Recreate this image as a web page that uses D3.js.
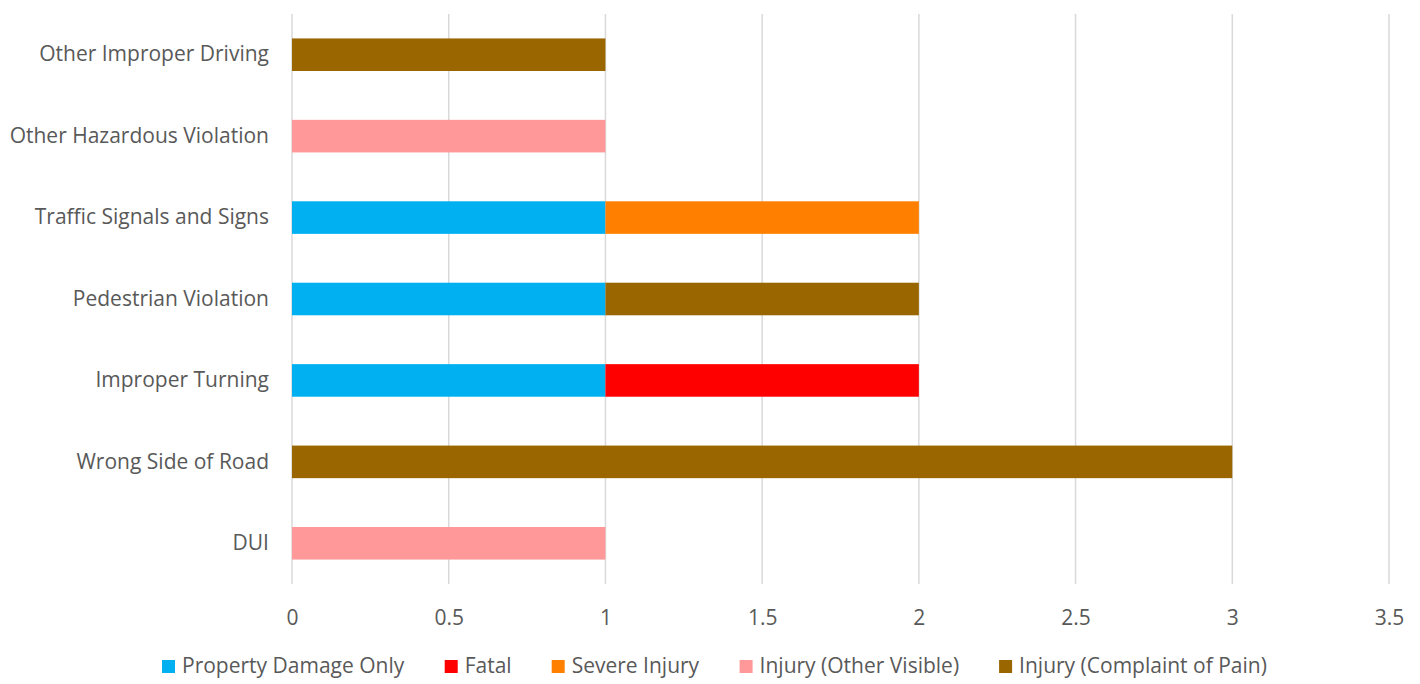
<!DOCTYPE html>
<html><head><meta charset="utf-8">
<script src="https://cdn.jsdelivr.net/npm/d3@7"></script>
<style>body{margin:0;background:#fff}svg{display:block}text{font-family:"Open Sans",sans-serif;fill:#595959}</style>
</head><body><svg id="c" width="1420" height="684"></svg>
<script>
const categories = ["Other Improper Driving","Other Hazardous Violation","Traffic Signals and Signs","Pedestrian Violation","Improper Turning","Wrong Side of Road","DUI"];
const seriesNames = ["Property Damage Only","Fatal","Severe Injury","Injury (Other Visible)","Injury (Complaint of Pain)"];
const propertyDamage = [0,0,1,1,1,0,0];
const fatal = [0,0,0,0,1,0,0];
const severeInjury = [0,0,1,0,0,0,0];
const injuryVisible = [0,1,0,0,0,0,1];
const injuryPain = [1,0,0,1,0,3,0];
const xTicks = [0,0.5,1,1.5,2,2.5,3,3.5];
const colors = ["#00B0F0","#FF0000","#FF8000","#FF9999","#996600"];

const seriesVals = [propertyDamage,fatal,severeInjury,injuryVisible,injuryPain];
const rows = categories.map((c,i)=>{const o={cat:c};seriesNames.forEach((s,j)=>o[s]=seriesVals[j][i]);return o;});
const stack = d3.stack().keys(seriesNames)(rows);

const svg = d3.select("#c");
const FS = "21px";
const m = {l:292,r:1389,t:14,b:584};
const x = d3.scaleLinear().domain([0,3.5]).range([m.l,m.r]);
const y = d3.scaleBand().domain(categories).range([m.t,m.b]).paddingInner(0.6).paddingOuter(0.3);

// gridlines
svg.append("g").selectAll("line").data(xTicks).join("line")
  .attr("x1",d=>x(d)).attr("x2",d=>x(d)).attr("y1",m.t).attr("y2",m.b)
  .attr("stroke","#D9D9D9").attr("stroke-width",1.5);

// bars
svg.append("g").selectAll("g").data(stack).join("g")
  .attr("fill",(d,i)=>colors[i])
  .selectAll("rect").data(d=>d).join("rect")
  .attr("x",d=>x(d[0])).attr("width",d=>x(d[1])-x(d[0]))
  .attr("y",d=>y(d.data.cat)).attr("height",y.bandwidth());

// x tick labels
const xa = svg.append("g").attr("transform",`translate(0,${m.b})`)
  .call(d3.axisBottom(x).tickValues(xTicks).tickSize(0).tickPadding(26).tickFormat(d=>String(d)));
xa.select(".domain").remove();
xa.selectAll("text").style("font-family","'Open Sans',sans-serif").style("font-size",FS).attr("fill","#595959");

// y labels
const ya = svg.append("g").attr("transform",`translate(${m.l},0)`)
  .call(d3.axisLeft(y).tickSize(0).tickPadding(23));
ya.select(".domain").remove();
ya.selectAll("text").style("font-family","'Open Sans',sans-serif").style("font-size",FS).attr("fill","#595959");

// legend
const lg = svg.append("g").attr("transform","translate(162,0)");
const items = lg.selectAll("g").data(seriesNames).join("g");
items.append("rect").attr("width",13).attr("height",13).attr("y",-6).attr("fill",(d,i)=>colors[i]);
items.append("text").attr("x",20).attr("dy","0.35em").style("font-size",FS).text(d=>d);
let cx=0; const gap=40;
items.each(function(d,i){const w=this.getBBox().width; d3.select(this).attr("transform",`translate(${cx},666)`); cx+=w+gap;});
</script></body></html>
